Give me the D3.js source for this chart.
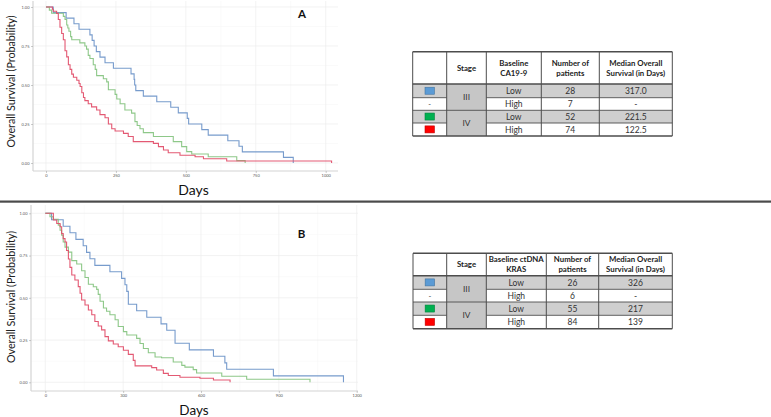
<!DOCTYPE html>
<html><head><meta charset="utf-8">
<script src="https://cdn.jsdelivr.net/npm/d3@7"></script>
<style>body{margin:0;background:#fff}svg{display:block}</style>
</head><body>
<svg id="c" width="771" height="417"></svg>
<script>
// ---------- DATA ----------
const panelLabels = ["A", "B"];
const xTicksA = [0, 250, 500, 750, 1000];
const xTicksB = [0, 300, 600, 900, 1200];
const yTicks = [0, 0.25, 0.5, 0.75, 1];
const yTickLabels = ["0.00", "0.25", "0.50", "0.75", "1.00"];

// Panel A (CA19-9) Kaplan-Meier steps [day, survival]
const blueA = [[0,1],[26,0.964],[72,0.929],[100,0.893],[118,0.857],[157,0.821],[165,0.786],[172,0.75],[180,0.714],[193,0.679],[211,0.643],[241,0.607],[304,0.571],[315,0.536],[317,0.5],[321,0.464],[348,0.429],[396,0.393],[446,0.357],[473,0.321],[505,0.286],[510,0.25],[557,0.214],[580,0.179],[650,0.143],[690,0.107],[702,0.071],[849,0.036],[884,0]];
const greenA = [[0,1],[12,0.98],[20,0.96],[62,0.94],[68,0.92],[74,0.885],[78,0.865],[82,0.845],[88,0.81],[92,0.79],[121,0.77],[139,0.75],[145,0.73],[151,0.69],[157,0.67],[169,0.63],[176,0.6],[181,0.56],[205,0.54],[217,0.52],[223,0.47],[247,0.44],[253,0.41],[265,0.38],[282,0.34],[306,0.32],[318,0.265],[326,0.24],[336,0.22],[348,0.195],[384,0.17],[455,0.137],[485,0.105],[503,0.073],[521,0.058],[580,0.04],[682,0.015],[712,0]];
const redA = [[0,1],[23,0.986],[26,0.973],[38,0.959],[44,0.92],[50,0.87],[56,0.83],[62,0.79],[68,0.72],[74,0.68],[80,0.63],[86,0.6],[92,0.57],[98,0.55],[110,0.53],[118,0.51],[122,0.49],[128,0.45],[134,0.42],[139,0.4],[151,0.38],[163,0.36],[181,0.34],[193,0.31],[211,0.29],[223,0.25],[235,0.22],[247,0.205],[277,0.19],[294,0.17],[312,0.137],[384,0.126],[402,0.105],[420,0.083],[437,0.066],[479,0.05],[533,0.04],[563,0.027],[646,0.013],[1021,0]];

// Panel B (ctDNA KRAS)
const blueB = [[0,1],[24,0.962],[69,0.923],[95,0.885],[118,0.846],[146,0.808],[159,0.769],[172,0.731],[191,0.692],[249,0.654],[294,0.615],[307,0.577],[314,0.538],[320,0.462],[352,0.423],[391,0.385],[446,0.346],[468,0.308],[500,0.231],[555,0.192],[648,0.154],[692,0.115],[699,0.077],[879,0.038],[1149,0]];
const greenB = [[0,1],[18,0.98],[31,0.965],[50,0.93],[57,0.9],[63,0.87],[69,0.83],[76,0.8],[89,0.77],[102,0.72],[121,0.7],[140,0.66],[153,0.62],[166,0.58],[185,0.565],[198,0.55],[204,0.52],[211,0.48],[224,0.44],[236,0.42],[249,0.4],[269,0.37],[281,0.33],[301,0.3],[314,0.28],[352,0.26],[365,0.23],[378,0.2],[397,0.175],[423,0.15],[448,0.145],[493,0.12],[526,0.1],[538,0.09],[570,0.075],[583,0.055],[680,0.036],[776,0.018],[1020,0]];
const redB = [[0,1],[31,0.96],[44,0.94],[57,0.92],[63,0.88],[69,0.85],[76,0.83],[82,0.78],[89,0.73],[95,0.68],[102,0.635],[114,0.605],[127,0.566],[134,0.527],[140,0.487],[153,0.457],[166,0.428],[179,0.4],[191,0.36],[204,0.333],[217,0.31],[230,0.27],[243,0.245],[262,0.227],[281,0.21],[301,0.19],[320,0.165],[339,0.13],[346,0.097],[410,0.087],[429,0.073],[455,0.053],[474,0.04],[519,0.03],[596,0.024],[648,0.014],[712,0]];

// Tables
const tableHeadA = ["", "Stage", "Baseline\nCA19-9", "Number of\npatients", "Median Overall\nSurvival (in Days)"];
const tableHeadB = ["", "Stage", "Baseline ctDNA\nKRAS", "Number of\npatients", "Median Overall\nSurvival (in Days)"];
const stages = ["III", "IV"];
const levels = ["Low", "High", "Low", "High"];
const swatches = ["#5b9bd5", "-", "#00b050", "#ff0000"];
const patientsA = ["28", "7", "52", "74"];
const medianA = ["317.0", "-", "221.5", "122.5"];
const patientsB = ["26", "6", "55", "84"];
const medianB = ["326", "-", "217", "139"];

const lineColors = ["#7096c9", "#88c583", "#e2506b"];

// ---------- DRAW ----------
const svg = d3.select("#c");
const font = "Lato, 'Open Sans', sans-serif";

function drawPanel(cfg) {
  const g = svg.append("g");
  const x = d3.scaleLinear().domain(cfg.xDomain).range(cfg.xRange);
  const y = d3.scaleLinear().domain([0, 1]).range(cfg.yRange);
  const step = cfg.xTicks[1] - cfg.xTicks[0];
  const minorX = cfg.xTicks.slice(0, -1).map(t => t + step / 2);
  const minorY = [0.125, 0.375, 0.625, 0.875];
  g.selectAll(".mx").data(minorX).join("line")
    .attr("x1", d => x(d)).attr("x2", d => x(d)).attr("y1", cfg.top).attr("y2", cfg.bottom)
    .attr("stroke", "#f6f6f6").attr("stroke-width", 0.6);
  g.selectAll(".my").data(minorY).join("line")
    .attr("y1", d => y(d)).attr("y2", d => y(d)).attr("x1", cfg.left).attr("x2", cfg.right)
    .attr("stroke", "#f6f6f6").attr("stroke-width", 0.6);
  g.selectAll(".gx").data(cfg.xTicks).join("line")
    .attr("x1", d => x(d)).attr("x2", d => x(d)).attr("y1", cfg.top).attr("y2", cfg.bottom)
    .attr("stroke", "#ececec").attr("stroke-width", 0.7);
  g.selectAll(".gy").data(yTicks).join("line")
    .attr("y1", d => y(d)).attr("y2", d => y(d)).attr("x1", cfg.left).attr("x2", cfg.right)
    .attr("stroke", "#ececec").attr("stroke-width", 0.7);
  g.append("line").attr("x1", cfg.left).attr("x2", cfg.left).attr("y1", cfg.top).attr("y2", cfg.bottom)
    .attr("stroke", "#d4d4d4").attr("stroke-width", 1.2);
  g.append("line").attr("x1", cfg.left).attr("x2", cfg.right).attr("y1", cfg.bottom).attr("y2", cfg.bottom)
    .attr("stroke", "#d4d4d4").attr("stroke-width", 1.2);
  const ax = d3.axisBottom(x).tickValues(cfg.xTicks).tickSize(2).tickPadding(1.5).tickFormat(d3.format("d"));
  const axg = g.append("g").attr("transform", `translate(0,${cfg.bottom})`).call(ax);
  axg.select(".domain").remove();
  axg.selectAll("line").attr("stroke", "#999").attr("stroke-width", 0.5);
  axg.selectAll("text").attr("font-size", 4).attr("fill", "#555").attr("font-family", font);
  const ay = d3.axisLeft(y).tickValues(yTicks).tickSize(2).tickPadding(1.5).tickFormat((d, i) => yTickLabels[i]);
  const ayg = g.append("g").attr("transform", `translate(${cfg.left},0)`).call(ay);
  ayg.select(".domain").remove();
  ayg.selectAll("line").attr("stroke", "#999").attr("stroke-width", 0.5);
  ayg.selectAll("text").attr("font-size", 4).attr("fill", "#555").attr("font-family", font);
  const line = d3.line().x(d => x(d[0])).y(d => y(d[1])).curve(d3.curveStepAfter);
  cfg.series.forEach((s, i) => {
    g.append("path").attr("d", line(s)).attr("fill", "none")
      .attr("stroke", lineColors[i]).attr("stroke-width", 1.1).attr("stroke-opacity", 0.95);
  });
  g.append("text").attr("x", cfg.daysX).attr("y", cfg.daysY).attr("text-anchor", "middle")
    .attr("font-family", font).attr("font-size", cfg.daysSize).attr("fill", "#111").text("Days");
  g.append("text").attr("transform", `translate(${cfg.ylabX},${cfg.ylabY}) rotate(-90)`)
    .attr("text-anchor", "middle").attr("font-family", font).attr("font-size", 11.5).attr("fill", "#222")
    .attr("textLength", 132).attr("lengthAdjust", "spacingAndGlyphs")
    .text("Overall Survival (Probability)");
  g.append("text").attr("x", cfg.letterX).attr("y", cfg.letterY).attr("text-anchor", "middle")
    .attr("font-family", font).attr("font-weight", "bold").attr("font-size", 11.5).attr("fill", "#111")
    .text(cfg.letter);
}

drawPanel({
  xDomain: [0, 1000], xRange: [46, 325.7], yRange: [163, 7],
  left: 33, right: 338, top: 1, bottom: 171, xTicks: xTicksA,
  series: [blueA, greenA, redA],
  daysX: 193.5, daysY: 195, daysSize: 14, ylabX: 14.5, ylabY: 81.5,
  letter: panelLabels[0], letterX: 302, letterY: 17.5
});
drawPanel({
  xDomain: [0, 1200], xRange: [45.3, 356.7], yRange: [382.3, 213.3],
  left: 31, right: 358, top: 205, bottom: 391, xTicks: xTicksB,
  series: [blueB, greenB, redB],
  daysX: 194, daysY: 415, daysSize: 13.5, ylabX: 14.5, ylabY: 297,
  letter: panelLabels[1], letterX: 301.5, letterY: 238
});

svg.append("rect").attr("x", 0).attr("y", 200.5).attr("width", 771).attr("height", 2.2).attr("fill", "#4a4a4a");

function drawTable(cols, rows, head, patients, median) {
  const g = svg.append("g").attr("font-family", font).attr("fill", "#222");
  const grey = "#cfcfcf";
  for (let r = 0; r < 4; r++) {
    const fill = (r % 2 === 0) ? grey : "#fff";
    g.append("rect").attr("x", cols[0]).attr("y", rows[r + 1]).attr("width", cols[5] - cols[0])
      .attr("height", rows[r + 2] - rows[r + 1]).attr("fill", fill);
  }
  for (let s = 0; s < 2; s++) {
    g.append("rect").attr("x", cols[1]).attr("y", rows[1 + 2 * s]).attr("width", cols[2] - cols[1])
      .attr("height", rows[3 + 2 * s] - rows[1 + 2 * s]).attr("fill", "#c6c6c6");
    g.append("text").attr("x", (cols[1] + cols[2]) / 2).attr("y", (rows[1 + 2 * s] + rows[3 + 2 * s]) / 2 + 3)
      .attr("text-anchor", "middle").attr("font-size", 8.3).attr("fill", "#333").text(stages[s]);
  }
  const stroke = "#4d4d4d";
  cols.forEach(cx => g.append("line").attr("x1", cx).attr("x2", cx).attr("y1", rows[0]).attr("y2", rows[5])
    .attr("stroke", stroke).attr("stroke-width", 1));
  rows.forEach((ry, i) => {
    const w = (i === 0 || i === 1 || i === 5) ? 1.4 : 0.9;
    if (i === 2 || i === 4) {
      g.append("line").attr("x1", cols[0]).attr("x2", cols[1]).attr("y1", ry).attr("y2", ry).attr("stroke", stroke).attr("stroke-width", w);
      g.append("line").attr("x1", cols[2]).attr("x2", cols[5]).attr("y1", ry).attr("y2", ry).attr("stroke", stroke).attr("stroke-width", w);
    } else {
      g.append("line").attr("x1", cols[0]).attr("x2", cols[5]).attr("y1", ry).attr("y2", ry).attr("stroke", stroke).attr("stroke-width", w);
    }
  });
  head.forEach((h, c) => {
    if (!h) return;
    const lines = h.split("\n");
    const cx = (cols[c] + cols[c + 1]) / 2, cy = (rows[0] + rows[1]) / 2;
    lines.forEach((t, k) => {
      g.append("text").attr("x", cx).attr("y", cy + (k - (lines.length - 1) / 2) * 10 + 2.8)
        .attr("text-anchor", "middle").attr("font-size", 7.8).attr("font-weight", "bold").attr("fill", "#222").text(t);
    });
  });
  for (let r = 0; r < 4; r++) {
    const cy = (rows[r + 1] + rows[r + 2]) / 2 + 3;
    const sx = (cols[0] + cols[1]) / 2;
    if (swatches[r] === "-") {
      g.append("text").attr("x", sx).attr("y", cy).attr("text-anchor", "middle").attr("font-size", 7.5).attr("fill", "#444").text("-");
    } else {
      g.append("rect").attr("x", sx - 4.7).attr("y", (rows[r + 1] + rows[r + 2]) / 2 - 3.6).attr("width", 9.4).attr("height", 7)
        .attr("fill", swatches[r]).attr("stroke", d3.color(swatches[r]).darker(0.8)).attr("stroke-width", 0.6);
    }
    [levels[r], patients[r], median[r]].forEach((t, k) => {
      g.append("text").attr("x", (cols[k + 2] + cols[k + 3]) / 2).attr("y", cy)
        .attr("text-anchor", "middle").attr("font-size", 8.5).attr("fill", "#333").text(t);
    });
  }
}

drawTable([412.7, 446.7, 486.3, 541.3, 599.3, 672.3], [51.7, 84, 97.7, 110.3, 123, 136], tableHeadA, patientsA, medianA);
drawTable([413, 446.7, 486.3, 546.3, 598.7, 672.3], [253.3, 275.7, 289.3, 302, 315.3, 328.7], tableHeadB, patientsB, medianB);
</script>
</body></html>
